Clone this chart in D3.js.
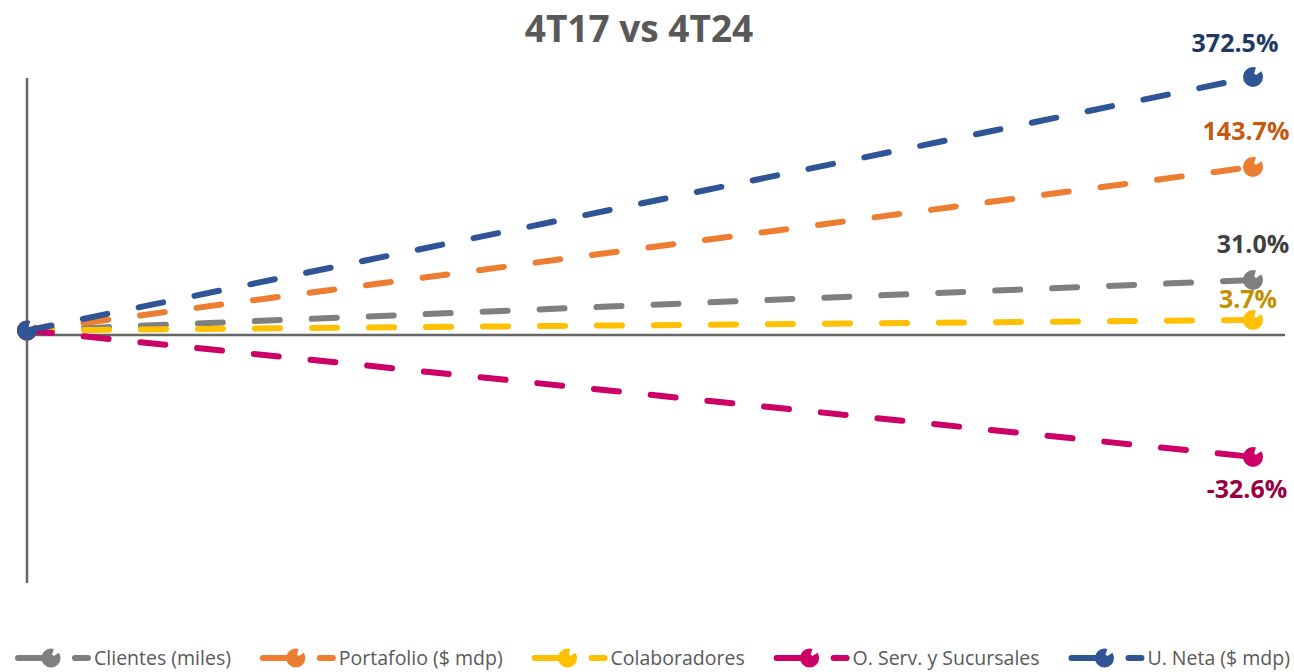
<!DOCTYPE html>
<html>
<head>
<meta charset="utf-8">
<script src="https://cdn.jsdelivr.net/npm/d3@7"></script>
<style>
  body { margin: 0; background: #fff; }
  svg { display: block; font-family: 'Open Sans', sans-serif; }
</style>
</head>
<body>
<svg id="container"></svg>
<script>
// periods compared
const categories = ['4T17', '4T24']
// series, in drawing order (last one on top)
const seriesNames = ['Clientes (miles)', 'Portafolio ($ mdp)', 'Colaboradores', 'O. Serv. y Sucursales', 'U. Neta ($ mdp)']
// growth shown in the data labels (%)
const growth = [31.0, 143.7, 3.7, -32.6, 372.5]
// plotted index at each period
const startValues = [0, 0, 0, 0, 0]
const endValues = [50, 162, 10.4, -125.2, 251]

const lineColors = ['#7f7f7f', '#ed7d31', '#ffc000', '#cc0066', '#2f5597']
const labelColors = ['#404040', '#c55a11', '#bf9000', '#99003f', '#203864']
// label offset from the end marker [dx, dy]
const labelOffsets = [[0, -27], [-7, -27], [-5, -12], [-6, 41], [-18, -25]]

const width = 1294
const height = 672

const svg = d3.select('#container')
  .attr('width', width)
  .attr('height', height)

// scales
const x = d3.scalePoint().domain(categories).range([27, 1253])
const y = d3.scaleLinear().domain([-250, 250]).range([583, 78])
const axisCross = -4.5

// hyphen minus, like the source
const fmt = d3.formatLocale({ decimal: '.', thousands: ',', grouping: [3], currency: ['$', ''], minus: '-' }).format('.1f')

// title
svg.append('text')
  .attr('x', 639)
  .attr('y', 42)
  .attr('text-anchor', 'middle')
  .attr('font-size', 37)
  .attr('font-weight', 700)
  .attr('fill', '#595959')
  .text('4T17 vs 4T24')

// axes (plain lines, no ticks)
svg.append('line')
  .attr('x1', x(categories[0])).attr('x2', x(categories[0]))
  .attr('y1', y(250)).attr('y2', y(-250))
  .attr('stroke', '#666').attr('stroke-width', 2.5)

svg.append('line')
  .attr('x1', 21).attr('x2', 1285)
  .attr('y1', y(axisCross)).attr('y2', y(axisCross))
  .attr('stroke', '#666').attr('stroke-width', 2.5)

const series = seriesNames.map((name, i) => ({
  name,
  color: lineColors[i],
  labelColor: labelColors[i],
  growth: growth[i],
  offset: labelOffsets[i],
  values: [startValues[i], endValues[i]]
}))

const line = d3.line()
  .x((d, i) => x(categories[i]))
  .y(d => y(d))

// marker: filled circle with a thick ring; a dash gap in the ring makes the notch
function marker(sel, r, color) {
  const rr = r * 0.62
  const c = 2 * Math.PI * rr
  sel.append('circle')
    .attr('r', r * 0.35)
    .attr('fill', color)
  sel.append('circle')
    .attr('r', rr)
    .attr('fill', 'none')
    .attr('stroke', color)
    .attr('stroke-width', r * 0.76)
    .attr('stroke-dasharray', (c * 0.78).toFixed(2) + ' ' + (c * 0.1).toFixed(2) + ' 100')
}

const gSeries = svg.append('g')
  .selectAll('g')
  .data(series)
  .join('g')

gSeries.append('path')
  .attr('d', d => line(d.values))
  .attr('fill', 'none')
  .attr('stroke', d => d.color)
  .attr('stroke-width', 6)
  .attr('stroke-linecap', 'round')
  .attr('stroke-dasharray', '25 32')

gSeries.each(function (d) {
  const g = d3.select(this)
  d.values.forEach((v, i) => {
    g.append('g')
      .attr('transform', `translate(${x(categories[i])},${y(v)})`)
      .call(marker, 10, d.color)
  })
})

// data labels at the end point
gSeries.append('text')
  .attr('x', d => x(categories[1]) + d.offset[0])
  .attr('y', d => y(d.values[1]) + d.offset[1])
  .attr('text-anchor', 'middle')
  .attr('font-size', 25)
  .attr('font-weight', 700)
  .attr('fill', d => d.labelColor)
  .text(d => fmt(d.growth) + '%')

// legend
const legend = svg.append('g').attr('transform', 'translate(0,658)')
const items = legend.selectAll('g')
  .data(series)
  .join('g')

items.append('line')
  .attr('x1', 3).attr('x2', 30)
  .attr('stroke', d => d.color).attr('stroke-width', 6).attr('stroke-linecap', 'round')
items.each(function (d) {
  d3.select(this).append('g').attr('transform', 'translate(36,0)').call(marker, 9.5, d.color)
})
items.append('line')
  .attr('x1', 60).attr('x2', 73)
  .attr('stroke', d => d.color).attr('stroke-width', 6).attr('stroke-linecap', 'round')
items.append('text')
  .attr('x', 79)
  .attr('y', 6.5)
  .attr('font-size', 19.5)
  .attr('fill', '#595959')
  .text(d => d.name)

// spread the entries over the legend band
const left = 15
const right = 1290
const widths = []
items.select('text').each(function () { widths.push(79 + this.getComputedTextLength()) })
const gap = (right - left - d3.sum(widths)) / (widths.length - 1)
let cursor = left
items.attr('transform', (d, i) => {
  const t = `translate(${cursor},0)`
  cursor += widths[i] + gap
  return t
})
</script>
</body>
</html>
